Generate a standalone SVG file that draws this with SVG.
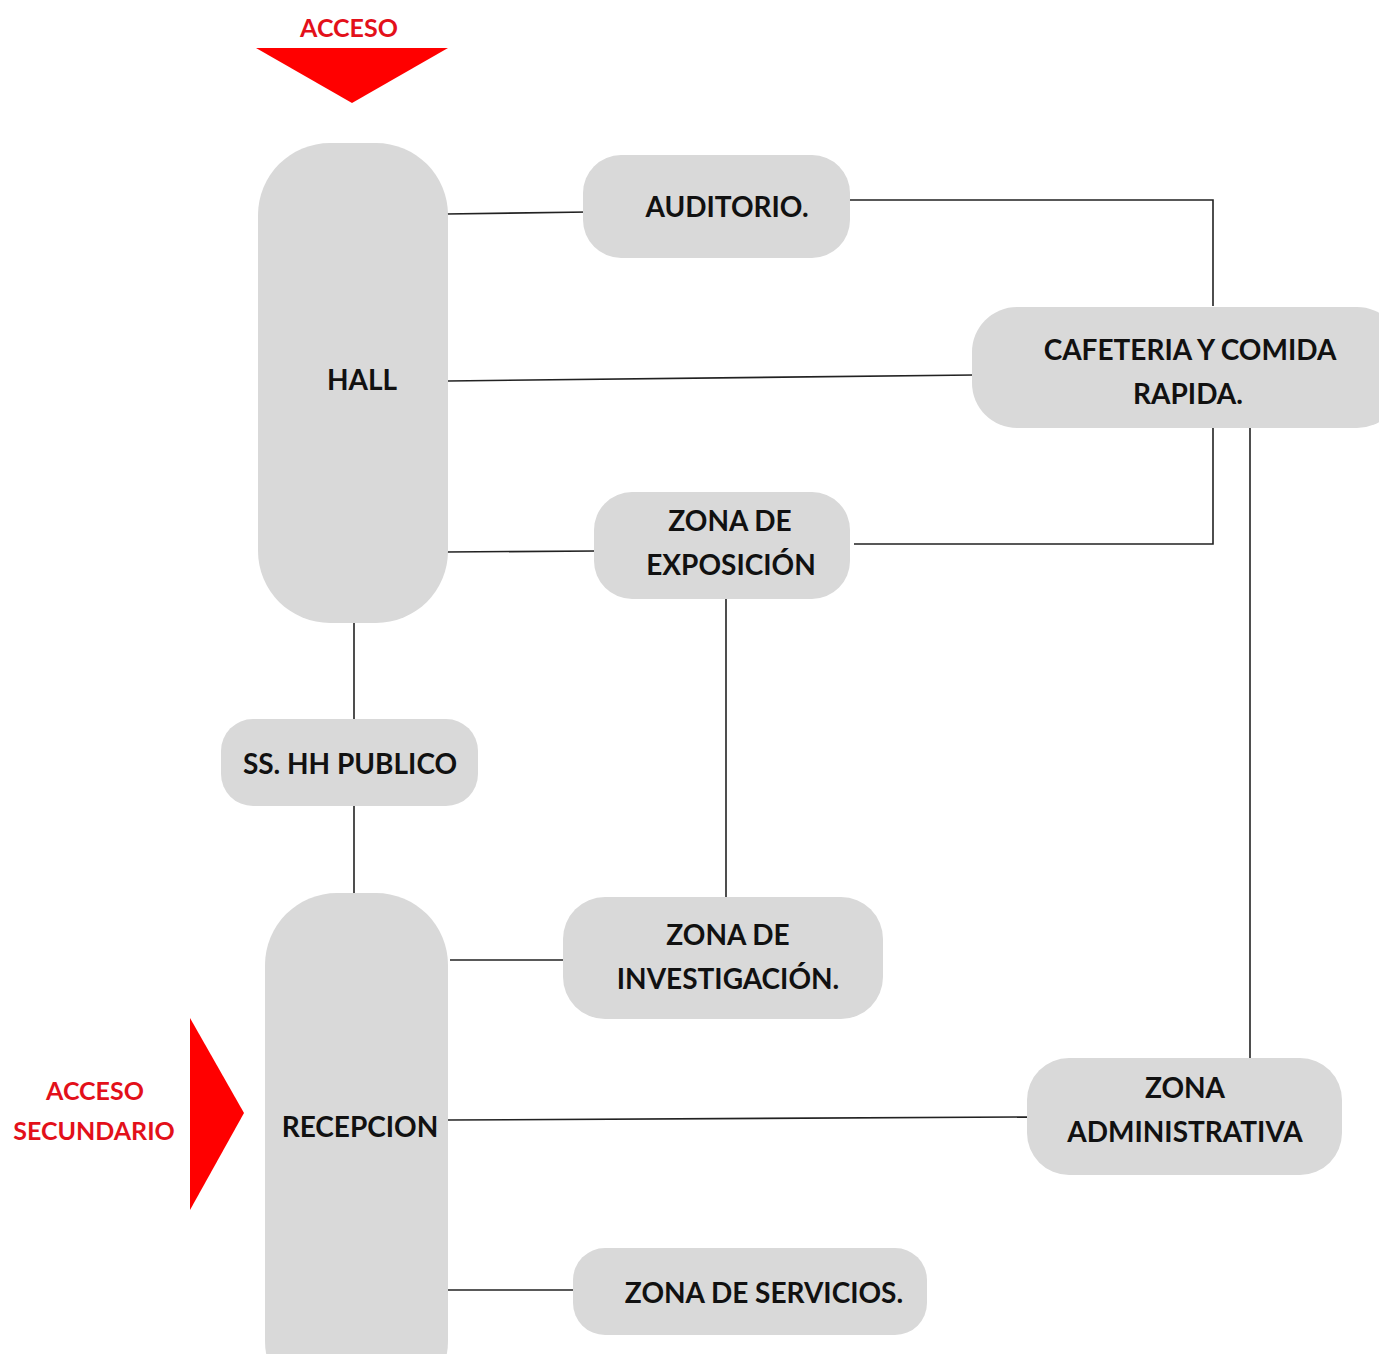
<svg xmlns="http://www.w3.org/2000/svg" width="1379" height="1354" viewBox="0 0 1379 1354">
<style>
.n{fill:#d9d9d9;}
.t{font-family:Lato,"Liberation Sans",sans-serif;font-weight:bold;font-size:28px;fill:#111;text-anchor:middle;}
.r{font-family:Lato,"Liberation Sans",sans-serif;font-weight:bold;font-size:25px;fill:#e3101a;text-anchor:middle;}
.c{fill:none;stroke:#222;stroke-width:1.6;}
.a{fill:#ff0000;}
</style>
<rect width="1379" height="1354" fill="#fff"/>
<g id="connectors">
<path class="c" d="M446 214 L588 212"/>
<path class="c" d="M850 200 L1213 200 L1213 306"/>
<path class="c" d="M448 381 L974 375"/>
<path class="c" d="M446 552 L596 551"/>
<path class="c" d="M1213 426 L1213 544 L854 544"/>
<path class="c" d="M1250 424 L1250 1058"/>
<path class="c" d="M726 596 L726 900"/>
<path class="c" d="M354 622 L354 720"/>
<path class="c" d="M354 805 L354 895"/>
<path class="c" d="M450 960 L575 960"/>
<path class="c" d="M448 1120 L1028 1117"/>
<path class="c" d="M448 1290 L574 1290"/>
</g>
<g id="acceso">
<polygon class="a" points="256,48 448,48 352,103"/>
<text class="r" x="349" y="37">ACCESO</text>
</g>
<g id="acceso-secundario">
<polygon class="a" points="190,1018 244,1113 190,1210"/>
<text class="r" x="95" y="1100">ACCESO</text>
<text class="r" x="94" y="1140">SECUNDARIO</text>
</g>
<g id="hall">
<rect class="n" x="258" y="143" width="190" height="480" rx="72" ry="72"/>
<text class="t" x="362" y="390">HALL</text>
</g>
<g id="auditorio">
<rect class="n" x="583" y="155" width="267" height="103" rx="38" ry="38"/>
<text class="t" x="727" y="217">AUDITORIO.</text>
</g>
<g id="cafeteria">
<rect class="n" x="972" y="307" width="430" height="121" rx="45" ry="45"/>
<text class="t" x="1190" y="360">CAFETERIA Y COMIDA</text>
<text class="t" x="1188" y="404">RAPIDA.</text>
</g>
<g id="exposicion">
<rect class="n" x="594" y="492" width="256" height="107" rx="38" ry="38"/>
<text class="t" x="730" y="531">ZONA DE</text>
<text class="t" x="731" y="575">EXPOSICIÓN</text>
</g>
<g id="sshh">
<rect class="n" x="221" y="719" width="257" height="87" rx="32" ry="32"/>
<text class="t" x="350" y="774">SS. HH PUBLICO</text>
</g>
<g id="recepcion">
<rect class="n" x="265" y="893" width="183" height="520" rx="72" ry="72"/>
<text class="t" x="360" y="1137">RECEPCION</text>
</g>
<g id="investigacion">
<rect class="n" x="563" y="897" width="320" height="122" rx="42" ry="42"/>
<text class="t" x="728" y="945">ZONA DE</text>
<text class="t" x="728" y="989">INVESTIGACIÓN.</text>
</g>
<g id="administrativa">
<rect class="n" x="1027" y="1058" width="315" height="117" rx="42" ry="42"/>
<text class="t" x="1185" y="1098">ZONA</text>
<text class="t" x="1185" y="1142">ADMINISTRATIVA</text>
</g>
<g id="servicios">
<rect class="n" x="573" y="1248" width="354" height="87" rx="32" ry="32"/>
<text class="t" x="764" y="1303">ZONA DE SERVICIOS.</text>
</g>
</svg>
